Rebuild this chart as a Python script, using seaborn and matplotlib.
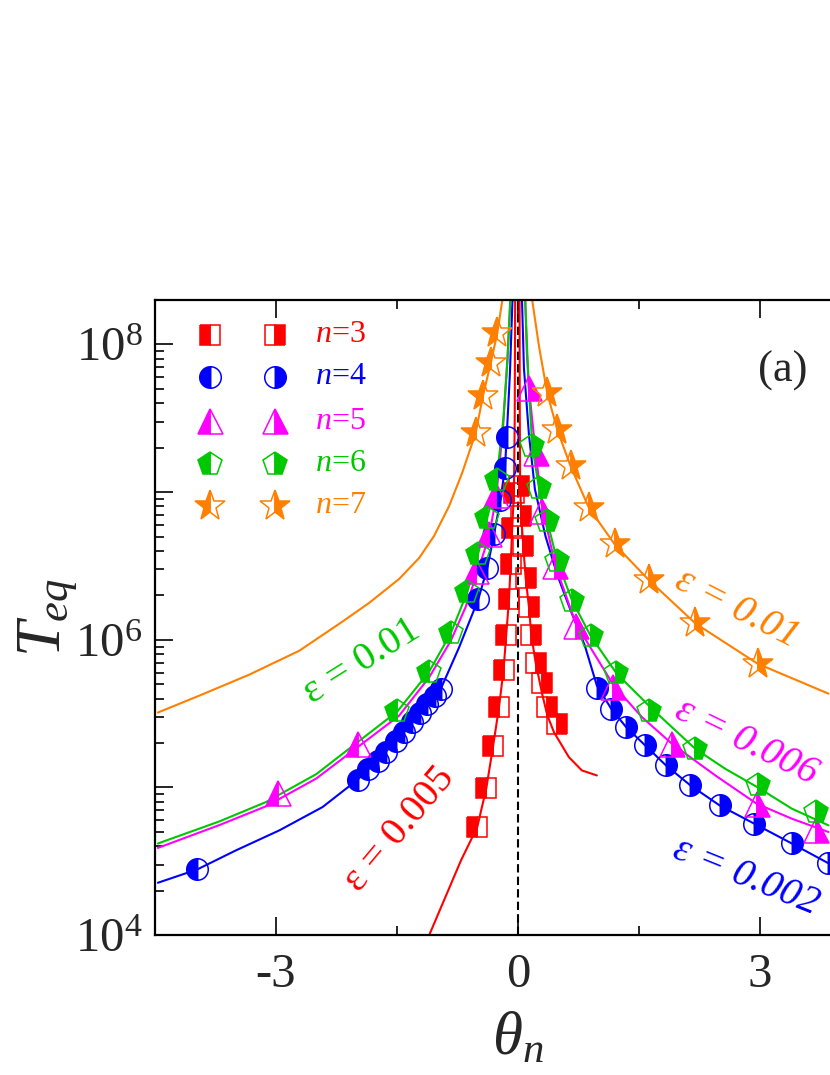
import matplotlib
matplotlib.use("Agg")
import matplotlib.pyplot as plt
import seaborn as sns
import numpy as np
from matplotlib.ticker import FixedLocator, FixedFormatter, NullFormatter

# ---------------- data: theta_n and log10(T_eq) ----------------
# n = 3 (squares)
n3_left_theta = [-0.504, -0.392, -0.309, -0.235, -0.179, -0.145, -0.111, -0.090, -0.071, -0.050]
n3_left_logT = [4.732, 4.995, 5.277, 5.543, 5.794, 6.034, 6.275, 6.516, 6.759, 6.995]
n3_right_theta = [0.015, 0.033, 0.066, 0.095, 0.136, 0.165, 0.219, 0.293, 0.363, 0.486]
n3_right_logT = [7.04, 6.838, 6.635, 6.419, 6.223, 6.034, 5.845, 5.709, 5.547, 5.432]
n3_fitL_theta = [-1.10, -0.705, -0.504, -0.392, -0.309, -0.235, -0.179, -0.145, -0.111, -0.090, -0.071, -0.050, -0.040, -0.035]
n3_fitL_logT = [4.00, 4.507, 4.732, 4.995, 5.277, 5.543, 5.794, 6.034, 6.275, 6.516, 6.759, 6.995, 7.5, 8.30]
n3_fitR_theta = [0.020, 0.022, 0.027, 0.040, 0.066, 0.095, 0.136, 0.165, 0.219, 0.300, 0.363, 0.446, 0.631, 0.792, 0.978]
n3_fitR_logT = [8.30, 7.6, 7.04, 6.84, 6.635, 6.419, 6.223, 6.034, 5.845, 5.633, 5.49, 5.374, 5.205, 5.115, 5.081]

# n = 4 (circles)
n4_left_theta = [-3.977, -1.989, -1.856, -1.741, -1.630, -1.514, -1.411, -1.308, -1.217, -1.123, -1.031, -0.957,
                 -0.491, -0.380, -0.297, -0.217, -0.161, -0.140]
n4_left_logT = [4.444, 5.052, 5.122, 5.182, 5.243, 5.313, 5.374, 5.441, 5.502, 5.565, 5.622, 5.667,
                6.275, 6.486, 6.714, 6.946, 7.164, 7.372]
n4_right_theta = [0.978, 1.157, 1.343, 1.578, 1.835, 2.137, 2.500, 2.927, 3.395, 3.849]
n4_right_logT = [5.672, 5.532, 5.407, 5.284, 5.149, 5.014, 4.878, 4.755, 4.620, 4.486]
n4_fitL_theta = [-4.464, -3.977, -3.494, -2.958, -2.422, -1.989, -1.741, -1.514, -1.308, -1.123, -0.957, -0.730,
                 -0.491, -0.380, -0.297, -0.217, -0.161, -0.140, -0.100, -0.068]
n4_fitL_logT = [4.354, 4.444, 4.574, 4.709, 4.867, 5.052, 5.182, 5.313, 5.441, 5.565, 5.667, 5.948,
                6.275, 6.486, 6.714, 6.946, 7.164, 7.372, 7.8, 8.30]
n4_fitR_theta = [0.050, 0.074, 0.136, 0.210, 0.342, 0.487, 0.652, 0.829, 0.978, 1.157, 1.343, 1.578, 1.835,
                 2.137, 2.500, 2.927, 3.395, 3.849]
n4_fitR_logT = [8.30, 7.84, 7.39, 7.02, 6.70, 6.44, 6.20, 5.96, 5.69, 5.532, 5.407, 5.284, 5.149,
                5.014, 4.878, 4.755, 4.620, 4.486]

# n = 5 (triangles)
n5_left_theta = [-2.979, -1.989, -0.520, -0.359, -0.272]
n5_left_logT = [4.959, 5.291, 6.466, 6.716, 6.980]
n5_right_theta = [0.136, 0.219, 0.301, 0.460, 0.716, 1.176, 1.910, 2.958, 3.700]
n5_right_logT = [7.705, 7.266, 6.872, 6.500, 6.090, 5.682, 5.295, 4.890, 4.709]
n5_fitL_theta = [-4.464, -3.700, -3.123, -2.500, -1.989, -1.473, -1.101, -0.833, -0.650, -0.520, -0.359, -0.272,
                 -0.190, -0.130, -0.095]
n5_fitL_logT = [4.59, 4.745, 4.872, 5.06, 5.272, 5.486, 5.745, 5.993, 6.22, 6.43, 6.70, 6.96, 7.4, 7.9, 8.30]
n5_fitR_theta = [0.090, 0.110, 0.136, 0.219, 0.301, 0.460, 0.716, 1.188, 1.539, 1.910, 2.447, 2.958, 3.395, 3.849]
n5_fitR_logT = [8.30, 7.95, 7.705, 7.266, 6.90, 6.51, 6.11, 5.689, 5.475, 5.295, 5.081, 4.89, 4.788, 4.698]

# n = 6 (pentagons)
n6_left_theta = [-1.494, -1.101, -0.833, -0.627, -0.493, -0.380, -0.266]
n6_left_logT = [5.515, 5.784, 6.044, 6.324, 6.584, 6.826, 7.081]
n6_right_theta = [0.177, 0.260, 0.363, 0.486, 0.672, 0.900, 1.219, 1.621, 2.199, 2.973, 3.700]
n6_right_logT = [7.311, 7.029, 6.804, 6.534, 6.264, 6.027, 5.774, 5.520, 5.261, 5.019, 4.831]
n6_fitL_theta = [-4.464, -3.700, -3.123, -2.500, -1.989, -1.494, -1.101, -0.833, -0.627, -0.493, -0.380, -0.266,
                 -0.180, -0.130, -0.095]
n6_fitL_logT = [4.62, 4.77, 4.901, 5.09, 5.306, 5.515, 5.784, 6.044, 6.324, 6.584, 6.826, 7.081, 7.5, 7.9, 8.30]
n6_fitR_theta = [0.090, 0.130, 0.177, 0.260, 0.363, 0.486, 0.672, 0.900, 1.219, 1.663, 2.199, 2.570, 2.973, 3.395, 3.849]
n6_fitR_logT = [8.30, 7.75, 7.311, 7.029, 6.804, 6.534, 6.264, 6.027, 5.774, 5.532, 5.261, 5.126, 5.0, 4.856, 4.743]

# n = 7 (stars)
n7_left_theta = [-0.524, -0.435, -0.338, -0.256]
n7_left_logT = [7.401, 7.649, 7.874, 8.076]
n7_right_theta = [0.363, 0.486, 0.652, 0.879, 1.198, 1.621, 2.199, 2.970]
n7_right_logT = [7.671, 7.424, 7.176, 6.894, 6.647, 6.405, 6.111, 5.838]
n7_fitL_theta = [-4.464, -3.948, -3.329, -2.710, -2.178, -1.844, -1.473, -1.225, -1.040, -0.854, -0.693,
                 -0.524, -0.435, -0.338, -0.256, -0.194]
n7_fitL_logT = [5.507, 5.622, 5.764, 5.926, 6.122, 6.250, 6.412, 6.554, 6.703, 6.905, 7.128,
                7.401, 7.649, 7.874, 8.076, 8.30]
n7_fitR_theta = [0.177, 0.260, 0.363, 0.486, 0.652, 0.879, 1.198, 1.621, 2.199, 2.970, 3.849]
n7_fitR_logT = [8.30, 7.99, 7.671, 7.424, 7.176, 6.894, 6.647, 6.405, 6.111, 5.838, 5.635]

series_n = [3, 4, 5, 6, 7]
legend_labels = ["$n$=3", "$n$=4", "$n$=5", "$n$=6", "$n$=7"]
eps_labels = ["ε = 0.005", "ε = 0.002", "ε = 0.006", "ε = 0.01", "ε = 0.01"]

x_ticks = [-3, 0, 3]
x_ticklabels = ["-3", "0", "3"]
y_ticks = [1e4, 1e5, 1e6, 1e7, 1e8]
y_ticklabels = ["$10^{4}$", "", "$10^{6}$", "", "$10^{8}$"]

# ---------------- styling ----------------
colors = {3: "#FF0000", 4: "#0000FF", 5: "#FF00FF", 6: "#00C800", 7: "#FF8000"}
markers = {3: "s", 4: "o", 5: "^", 6: "p", 7: "*"}
msizes = {3: 14.5, 4: 15.5, 5: 18.0, 6: 18.0, 7: 23.0}

sns.set_theme(style="ticks")
plt.rcParams["font.family"] = ["Liberation Serif", "DejaVu Serif"]
plt.rcParams["mathtext.fontset"] = "custom"
plt.rcParams["mathtext.rm"] = "Liberation Serif"
plt.rcParams["mathtext.it"] = "Liberation Serif:italic"
plt.rcParams["mathtext.bf"] = "Liberation Serif:bold"

fig = plt.figure(figsize=(8.3, 10.75), dpi=100)
ax = fig.add_axes([0.1867, 0.1302, 0.8747, 0.5907])

data = {
    3: (n3_left_theta, n3_left_logT, n3_right_theta, n3_right_logT, n3_fitL_theta, n3_fitL_logT, n3_fitR_theta, n3_fitR_logT),
    4: (n4_left_theta, n4_left_logT, n4_right_theta, n4_right_logT, n4_fitL_theta, n4_fitL_logT, n4_fitR_theta, n4_fitR_logT),
    5: (n5_left_theta, n5_left_logT, n5_right_theta, n5_right_logT, n5_fitL_theta, n5_fitL_logT, n5_fitR_theta, n5_fitR_logT),
    6: (n6_left_theta, n6_left_logT, n6_right_theta, n6_right_logT, n6_fitL_theta, n6_fitL_logT, n6_fitR_theta, n6_fitR_logT),
    7: (n7_left_theta, n7_left_logT, n7_right_theta, n7_right_logT, n7_fitL_theta, n7_fitL_logT, n7_fitR_theta, n7_fitR_logT),
}

# dashed line at theta = 0
ax.axvline(0, color="black", lw=1.5, ls=(0, (4, 2)), zorder=1)

for n in series_n:
    lt, ll, rt, rl, flt, fll, frt, frl = data[n]
    c = colors[n]
    for th, lg in ((flt, fll), (frt, frl)):
        sns.lineplot(x=th, y=10 ** np.array(lg), ax=ax, color=c, linewidth=1.5,
                     sort=False, estimator=None, legend=False, zorder=2)

for n in series_n:
    lt, ll, rt, rl, flt, fll, frt, frl = data[n]
    c = colors[n]
    for th, lg, fs in ((lt, ll, "left"), (rt, rl, "right")):
        sns.lineplot(x=th, y=10 ** np.array(lg), ax=ax, color=c, linestyle="",
                     marker=markers[n], markersize=msizes[n], fillstyle=fs,
                     markerfacecolor=c, markerfacecoloralt="none",
                     markeredgecolor=c, markeredgewidth=1.1,
                     sort=False, estimator=None, legend=False, zorder=3)

ax.set_yscale("log")
ax.set_xlim(-4.5, 4.5)
ax.set_ylim(1e4, 2e8)

ax.xaxis.set_major_locator(FixedLocator(x_ticks))
ax.xaxis.set_major_formatter(FixedFormatter(x_ticklabels))
ax.xaxis.set_minor_locator(FixedLocator([-4.5, -1.5, 1.5, 4.5]))
ax.yaxis.set_major_locator(FixedLocator(y_ticks))
ax.yaxis.set_major_formatter(FixedFormatter(y_ticklabels))
minor_y = [m * 10 ** e for e in range(4, 9) for m in range(2, 10)]
ax.yaxis.set_minor_locator(FixedLocator(minor_y))
ax.yaxis.set_minor_formatter(NullFormatter())

ax.tick_params(which="both", direction="in", top=True, right=True, color="black", width=1.2)
ax.tick_params(which="major", length=13)
ax.tick_params(which="minor", length=6.5)
ax.tick_params(axis="x", which="major", labelsize=35, pad=13)
ax.tick_params(axis="y", which="major", labelsize=35, pad=9)
for sp in ax.spines.values():
    sp.set_linewidth(1.6)
    sp.set_color("black")

ax.set_xlabel(r"$\theta_n$", fontsize=44)
ax.xaxis.set_label_coords(0.5, -0.122)
ax.set_ylabel(r"$T_{eq}$", fontsize=46)
ax.yaxis.set_label_coords(-0.105, 0.5)

# legend (drawn manually in axes fraction)
leg_rows = [0.945, 0.879, 0.809, 0.742, 0.676]
for n, yy, lab in zip(series_n, leg_rows, legend_labels):
    c = colors[n]
    for xx, fs in ((0.0758, "left"), (0.1653, "right")):
        ax.plot([xx], [yy], transform=ax.transAxes, linestyle="", marker=markers[n],
                markersize=msizes[n], fillstyle=fs, markerfacecolor=c, markerfacecoloralt="none",
                markeredgecolor=c, markeredgewidth=1.1, clip_on=False, zorder=5)
    ax.text(0.2204, yy, lab, transform=ax.transAxes, color=c, fontsize=23, va="center", ha="left")

# annotations
ax.text(3.28, 10 ** 7.824, "(a)", fontsize=32, ha="center", va="center")
ax.text(-1.46, 10 ** 4.716, eps_labels[0], color=colors[3], fontsize=29, rotation=50,
        ha="center", va="center", rotation_mode="anchor")
ax.text(-1.93, 10 ** 5.851, eps_labels[3], color=colors[6], fontsize=29, rotation=32,
        ha="center", va="center", rotation_mode="anchor")
ax.text(2.72, 10 ** 6.209, eps_labels[4], color=colors[7], fontsize=29, rotation=-27,
        ha="center", va="center", rotation_mode="anchor", style="italic")
ax.text(2.834, 10 ** 5.304, eps_labels[2], color=colors[5], fontsize=29, rotation=-26,
        ha="center", va="center", rotation_mode="anchor", style="italic")
ax.text(2.822, 10 ** 4.392, eps_labels[1], color=colors[4], fontsize=29, rotation=-22,
        ha="center", va="center", rotation_mode="anchor", style="italic")

fig.savefig("out.png", dpi=100)
